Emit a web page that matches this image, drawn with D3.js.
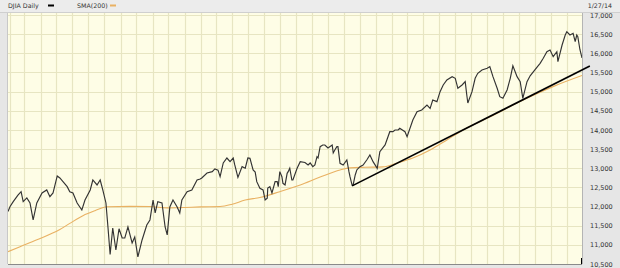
<!DOCTYPE html>
<html>
<head>
<meta charset="utf-8">
<script src="https://cdn.jsdelivr.net/npm/d3@7"></script>
<style>
  body { margin: 0; background: #e6e6e6; }
  svg { display: block; }
  text { font-family: 'DejaVu Sans', Verdana, sans-serif; }
</style>
</head>
<body>
<svg id="svg-container" width="620" height="268"></svg>
<script>
// DJIA daily close (days after start date, close)
const startDate = new Date(2011, 0, 27)
const endDate = new Date(2014, 0, 27)

const closeDays = [0, 4, 10, 19, 25, 29, 36, 42, 48, 55, 65, 74, 80, 86, 94, 99, 105, 113, 118, 124,
  132, 141, 147, 157, 162, 170, 176, 181, 187, 191, 195, 200, 206, 212, 218, 223, 229, 237, 242, 248,
  256, 265, 271, 277, 281, 286, 294, 300, 304, 309, 315, 323, 328, 332, 342, 351, 361, 367, 370, 380,
  390, 395, 401, 405, 411, 418, 424, 430, 433, 439, 447, 453, 458, 462, 468, 472, 475, 481, 487, 491,
  495, 496, 500, 504, 510, 514, 516, 519, 523, 525, 529, 533, 535, 538, 542, 544, 552, 558, 567, 573,
  577, 582, 586, 590, 592, 596, 601, 605, 611, 619, 621, 624, 628, 630, 634, 640, 647, 651, 653, 657,
  659, 663, 666, 672, 678, 685, 691, 697, 705, 710, 720, 729, 735, 739, 745, 748, 758, 762, 773, 781,
  790, 800, 806, 811, 819, 825, 831, 838, 848, 854, 859, 867, 873, 876, 878, 886, 892, 897, 905, 915,
  920, 926, 934, 939, 945, 953, 959, 964, 972, 978, 983, 991, 997, 1006, 1016, 1022, 1029, 1035, 1041, 1048,
  1050, 1058, 1064, 1067, 1073, 1079, 1083, 1086, 1088, 1092, 1096]

const closeValues = [11870, 12000, 12127, 12300, 12388, 12127, 12224, 12093, 11650, 12093, 12354, 12433, 12258, 12354, 12798, 12746, 12650, 12519, 12388, 12354,
  12093, 11910, 12171, 12433, 12693, 12563, 12693, 12433, 12093, 11440, 10750, 11440, 10866, 11420, 11180, 11180, 11467, 11049, 11206, 10684,
  11127, 11519, 11650, 12171, 11832, 12127, 12093, 11467, 11258, 11989, 12171, 11989, 11832, 12171, 12388, 12433, 12693, 12720, 12746, 12876,
  12911, 12981, 12950, 12780, 13137, 13267, 13171, 13267, 13085, 12760, 13041, 13000, 13267, 13259, 12955, 12900, 12650, 12476, 12433, 12171,
  12215, 12485, 12519, 12354, 12650, 12650, 12519, 12911, 12780, 12606, 12563, 12867, 12911, 13000, 12693, 12693, 12998, 13171, 13150, 13085,
  13137, 13041, 13085, 13302, 13267, 13563, 13607, 13607, 13529, 13607, 13398, 13476, 13563, 13563, 13128, 13085, 13215, 12911, 12780, 12560,
  12563, 12824, 12955, 13041, 13085, 13215, 13346, 13171, 12998, 13433, 13607, 13954, 13954, 13998, 13998, 14041, 13954, 13824, 14259, 14476,
  14520, 14651, 14564, 14781, 14738, 14998, 15173, 15304, 15390, 15347, 15087, 15173, 15260, 14912, 14703, 14998, 15347, 15478, 15565, 15608,
  15652, 15390, 15087, 14868, 14825, 15043, 15347, 15673, 15390, 15260, 14825, 15260, 15412, 15565, 15739, 15869, 16042, 16086, 15912, 16042,
  15782, 16217, 16478, 16565, 16478, 16521, 16303, 16478, 16435, 16100, 15880]

// 200 day simple moving average
const smaDays = [0, 23, 54, 99, 118, 143, 166, 189, 233, 271, 304, 338, 367, 405, 428, 453, 481, 519, 558, 596,
  634, 653, 682, 716, 743, 773, 806, 838, 869, 901, 934, 964, 997, 1044, 1096]
const smaValues = [10822, 10953, 11127, 11400, 11560, 11760, 11890, 11995, 12005, 12000, 11965, 11975, 11990, 12000, 12060, 12170, 12235, 12388, 12563, 12770,
  12955, 13010, 13025, 13035, 13137, 13267, 13476, 13737, 13998, 14215, 14433, 14651, 14868, 15150, 15420]

// hand drawn trend line
const trendDays = [657, 1111]
const trendValues = [12540, 15669]

const yTicks = [10500, 11000, 11500, 12000, 12500, 13000, 13500, 14000, 14500, 15000, 15500, 16000, 16500, 17000]

const plot = { left: 8, right: 582, top: 15, bottom: 264 }

const svg = d3.select('#svg-container')

const x = d3.scaleTime().domain([startDate, endDate]).range([plot.left, plot.right])
const y = d3.scaleLinear().domain([10500, 17000]).range([plot.bottom, plot.top])

const toPoints = (days, values) => days.map((d, i) => [d3.timeDay.offset(startDate, d), values[i]])

// header strip
svg.append('rect').attr('x', 0).attr('y', 0).attr('width', 620).attr('height', 12).attr('fill', '#ececec')
svg.append('line').attr('x1', 0).attr('x2', 620).attr('y1', 12.5).attr('y2', 12.5).attr('stroke', '#cfcfcf')

// plot background
svg.append('rect')
  .attr('x', plot.left)
  .attr('y', plot.top - 2)
  .attr('width', plot.right - plot.left)
  .attr('height', plot.bottom - plot.top + 2)
  .attr('fill', '#fefde6')

svg.append('defs').append('clipPath').attr('id', 'clip')
  .append('rect')
  .attr('x', plot.left)
  .attr('y', plot.top - 2)
  .attr('width', plot.right - plot.left)
  .attr('height', plot.bottom - plot.top + 2)

// grid
const grid = svg.append('g').attr('stroke', '#e7e5c2').attr('stroke-width', 1.2)
grid.selectAll('.hg')
  .data(yTicks)
  .enter()
  .append('line')
  .attr('x1', plot.left)
  .attr('x2', plot.right)
  .attr('y1', d => Math.round(y(d)) + 0.5)
  .attr('y2', d => Math.round(y(d)) + 0.5)
grid.selectAll('.vg')
  .data(x.ticks(d3.timeMonth.every(1)))
  .enter()
  .append('line')
  .attr('x1', d => Math.round(x(d)) - 0.5)
  .attr('x2', d => Math.round(x(d)) - 0.5)
  .attr('y1', plot.top - 2)
  .attr('y2', plot.bottom)

// frame
svg.append('line').attr('x1', plot.left).attr('x2', plot.right).attr('y1', plot.bottom + 0.5).attr('y2', plot.bottom + 0.5).attr('stroke', '#8a8a8a')
svg.append('line').attr('x1', plot.right + 0.5).attr('x2', plot.right + 0.5).attr('y1', plot.top - 2).attr('y2', plot.bottom).attr('stroke', '#b4b4b4')
svg.append('line').attr('x1', plot.left - 0.5).attr('x2', plot.left - 0.5).attr('y1', plot.top - 2).attr('y2', plot.bottom).attr('stroke', '#c8c8c8')
svg.append('line').attr('x1', plot.right - 0.5).attr('x2', plot.right - 0.5).attr('y1', plot.bottom - 6).attr('y2', plot.bottom).attr('stroke', '#000')

const line = d3.line().x(d => x(d[0])).y(d => y(d[1]))

const series = svg.append('g').attr('clip-path', 'url(#clip)')
series.append('path')
  .datum(toPoints(smaDays, smaValues))
  .attr('d', line.curve(d3.curveMonotoneX))
  .attr('fill', 'none')
  .attr('stroke', '#e9b163')
  .attr('stroke-width', 1.1)

series.append('path')
  .datum(toPoints(closeDays, closeValues))
  .attr('d', line.curve(d3.curveLinear))
  .attr('fill', 'none')
  .attr('stroke', '#333')
  .attr('stroke-width', 1.15)

svg.append('path')
  .datum(toPoints(trendDays, trendValues))
  .attr('d', line)
  .attr('fill', 'none')
  .attr('stroke', '#000')
  .attr('stroke-width', 1.6)

// right axis labels
const yAxis = svg.append('g')
  .attr('transform', `translate(${plot.right + 6},0)`)
  .call(d3.axisRight(y).tickValues(yTicks).tickFormat(d3.format(',')).tickSize(0).tickPadding(2))
yAxis.select('.domain').remove()
yAxis.selectAll('text')
  .attr('font-family', "'DejaVu Sans', Verdana, sans-serif")
  .attr('font-size', 6.5)
  .attr('fill', '#333')

// legend
const legend = svg.append('g').attr('font-size', 6.3).attr('fill', '#333')
legend.append('text').attr('x', 8).attr('y', 8).text('DJIA Daily')
legend.append('rect').attr('x', 48).attr('y', 4.5).attr('width', 6).attr('height', 2).attr('fill', '#000')
legend.append('text').attr('x', 77).attr('y', 8).text('SMA(200)')
legend.append('rect').attr('x', 110).attr('y', 4.5).attr('width', 6).attr('height', 2).attr('fill', '#e9b163')
legend.append('text').attr('x', 612).attr('y', 8).attr('text-anchor', 'end').text('1/27/14')
</script>
</body>
</html>
